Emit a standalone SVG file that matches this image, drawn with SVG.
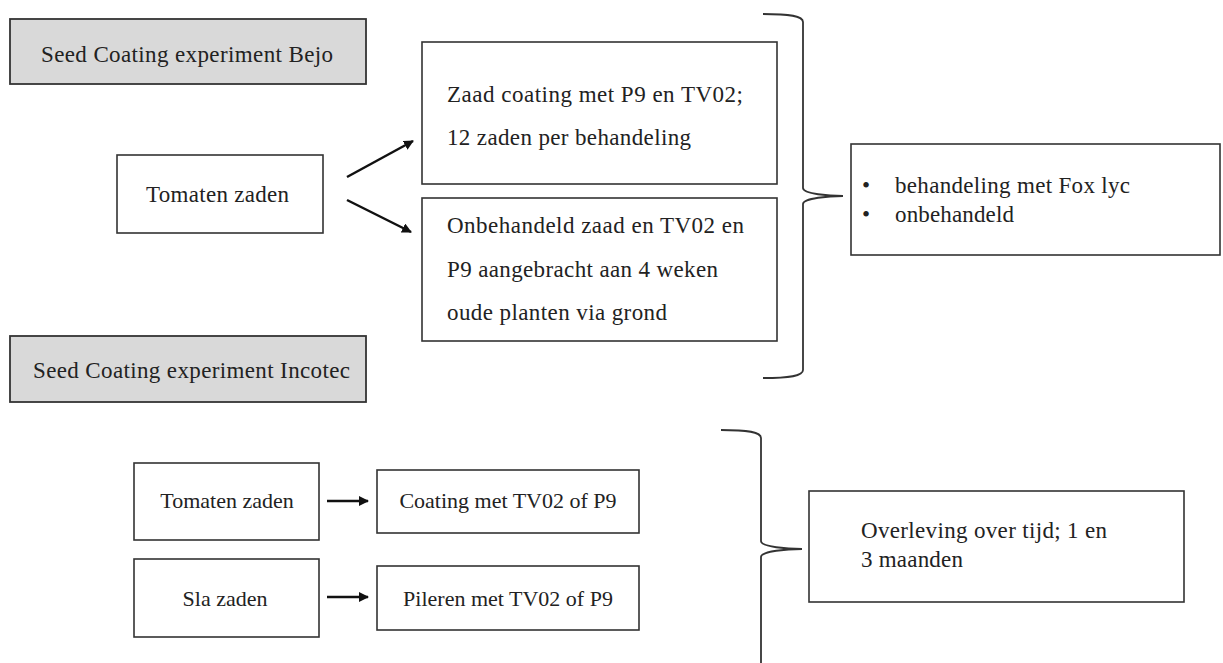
<svg xmlns="http://www.w3.org/2000/svg" width="1223" height="663" viewBox="0 0 1223 663">
<defs>
<style>
.box{fill:#fff;stroke:#333;stroke-width:1.6}
.hdr{fill:#d9d9d9;stroke:#333;stroke-width:1.8}
.t{font-family:"Liberation Serif","Times New Roman",serif;font-size:23px;fill:#222}
.ts{font-family:"Liberation Serif","Times New Roman",serif;font-size:22px;fill:#222}
.c{text-anchor:middle}
.ln{stroke:#111;stroke-width:2.5;fill:none}
.br{stroke:#333;stroke-width:1.8;fill:none}
</style>
<marker id="ah" viewBox="0 0 10 10" refX="9" refY="5" markerWidth="4" markerHeight="4" orient="auto" markerUnits="strokeWidth">
<path d="M0,0 L10,5 L0,10 z" fill="#111"/>
</marker>
</defs>
<rect width="1223" height="663" fill="#fff"/>

<g id="hdr-bejo">
<rect class="hdr" x="10" y="19" width="356" height="65"/>
<text class="t" x="41" y="62" textLength="292">Seed Coating experiment Bejo</text>
</g>
<g id="hdr-incotec">
<rect class="hdr" x="10" y="336" width="356" height="66"/>
<text class="t" x="33" y="378" textLength="317">Seed Coating experiment Incotec</text>
</g>

<g id="tomaten-top">
<rect class="box" x="117" y="155" width="206" height="78"/>
<text class="t" x="146" y="202" textLength="143">Tomaten zaden</text>
</g>
<g id="coating-p9">
<rect class="box" x="422" y="42" width="355" height="142"/>
<text class="t" x="447" y="102" textLength="296">Zaad coating met P9 en TV02;</text>
<text class="t" x="447" y="145" textLength="244">12 zaden per behandeling</text>
</g>
<g id="onbehandeld">
<rect class="box" x="422" y="198" width="355" height="143"/>
<text class="t" x="447" y="233" textLength="297">Onbehandeld zaad en TV02 en</text>
<text class="t" x="447" y="277" textLength="271">P9 aangebracht aan 4 weken</text>
<text class="t" x="447" y="320" textLength="220">oude planten via grond</text>
</g>
<g id="fox">
<rect class="box" x="851" y="144" width="369" height="111"/>
<text class="t" x="862" y="193">•</text>
<text class="t" x="895" y="193" textLength="235">behandeling met Fox lyc</text>
<text class="t" x="862" y="222">•</text>
<text class="t" x="895" y="222" textLength="119">onbehandeld</text>
</g>

<g id="tomaten-bottom">
<rect class="box" x="134" y="463" width="185" height="77"/>
<text class="ts c" x="227" y="508">Tomaten zaden</text>
</g>
<g id="sla">
<rect class="box" x="134" y="559" width="185" height="78"/>
<text class="ts c" x="225" y="606">Sla zaden</text>
</g>
<g id="coating-tv02">
<rect class="box" x="377" y="470" width="262" height="63"/>
<text class="ts c" x="508" y="508">Coating met TV02 of P9</text>
</g>
<g id="pileren">
<rect class="box" x="377" y="566" width="262" height="64"/>
<text class="ts c" x="508" y="606">Pileren met TV02 of P9</text>
</g>
<g id="overleving">
<rect class="box" x="809" y="491" width="375" height="111"/>
<text class="t" x="861" y="538" textLength="246">Overleving over tijd; 1 en</text>
<text class="t" x="861" y="567" textLength="102">3 maanden</text>
</g>

<g id="connectors">
<line class="ln" x1="347" y1="177" x2="413" y2="141" marker-end="url(#ah)"/>
<line class="ln" x1="347" y1="200" x2="411" y2="232" marker-end="url(#ah)"/>
<line class="ln" x1="327" y1="501" x2="368" y2="501" marker-end="url(#ah)"/>
<line class="ln" x1="327" y1="597" x2="368" y2="597" marker-end="url(#ah)"/>
<path class="br" d="M763,14 C790,14 803,16 803,22 L803,188 C803,194 830,196 843,196 C830,196 803,198 803,204 L803,370 C803,376 790,378 763,378"/>
<path class="br" d="M721,430 C748,430 761,432 761,438 L761,541 C761,547 788,549 802,549 C788,549 761,551 761,557 L761,663"/>
</g>
</svg>
